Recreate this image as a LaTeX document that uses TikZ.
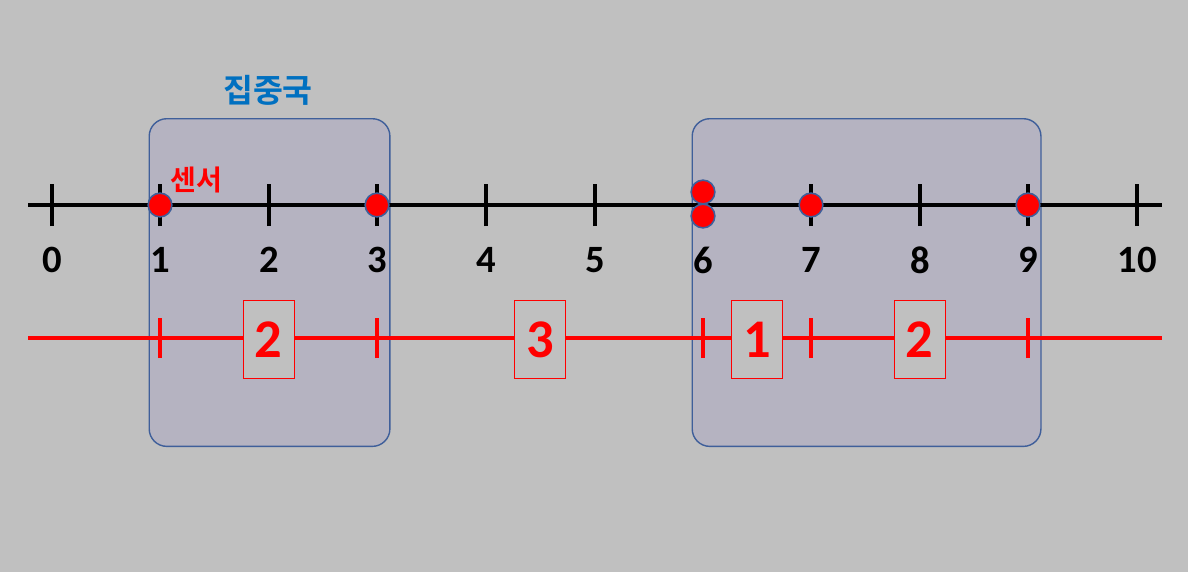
\documentclass[tikz,border=0pt]{standalone}
\usepackage{fontspec}
\setmainfont{Carlito}
\newfontfamily\kor{Noto Sans CJK KR}[BoldFont={* Bold}]
\definecolor{bg}{HTML}{C0C0C0}
\definecolor{grpfill}{HTML}{B5B3C1}
\definecolor{grpline}{HTML}{3F5F9A}
\definecolor{kblue}{HTML}{0070C0}
\definecolor{kred}{HTML}{FF0000}
\tikzset{
  grp/.style={draw=grpline, line width=0.8pt, fill=grpfill, rounded corners=10pt},
  blackaxis/.style={draw=black, line width=1.9pt},
  redaxis/.style={draw=kred, line width=1.8pt},
  sensor/.style={circle, fill=kred, draw=grpline, line width=0.9pt, minimum size=13.5pt, inner sep=0pt},
  numlbl/.style={font=\bfseries\fontsize{22}{24}\selectfont, text=black},
  seg/.style={draw=kred, line width=0.5pt, fill=bg, minimum width=29pt, minimum height=44pt, inner sep=0pt, font=\bfseries\fontsize{31}{33}\selectfont, text=kred}
}
\begin{document}
\begin{tikzpicture}[x=0.02cm,y=-0.02cm]
\fill[bg] (0,0) rectangle (1188,572);
\useasboundingbox (0,0) rectangle (1188,572);
% groups
\node[grp, minimum width=137pt, minimum height=186.5pt, anchor=north west] (g1) at (148.5,118) {};
\node[grp, minimum width=198.5pt, minimum height=186.5pt, anchor=north west] (g2) at (691.5,118) {};
\node[font=\kor\bfseries\fontsize{18.5}{20}\selectfont, text=kblue] (gl) at (268,90) {집중국};
% black axis
\coordinate (aL) at (28,205);
\coordinate (aR) at (1162,205);
\draw[blackaxis] (aL) -- (aR);
\foreach \i/\x in {0/52,1/160,2/269,3/377,4/486,5/595,6/703,7/811,8/920,9/1028,10/1137}{
  \coordinate (t\i) at (\x,205);
  \draw[blackaxis] ([yshift=-0.42cm]t\i) -- ([yshift=0.42cm]t\i);
  \node[numlbl] (n\i) at (\x,260) {\i};
}
% red axis
\coordinate (rL) at (28,338);
\coordinate (rR) at (1162,338);
\draw[redaxis] (rL) -- (rR);
\foreach \i/\x in {1/160,3/377,6/703,7/811,9/1028}{
  \coordinate (r\i) at (\x,338);
  \draw[redaxis] ([yshift=-0.4cm]r\i) -- ([yshift=0.4cm]r\i);
}
\node[seg] (s1) at (268.5,339.5) {2};
\node[seg] (s2) at (540,339.5) {3};
\node[seg] (s3) at (757,339.5) {1};
\node[seg] (s4) at (919.5,339.5) {2};
% sensors
\node[sensor] (p1) at (160,205) {};
\node[sensor] (p3) at (377,205) {};
\node[sensor] (p6a) at (703,192) {};
\node[sensor] (p6b) at (703,216) {};
\node[sensor] (p7) at (811,205) {};
\node[sensor] (p9) at (1028,205) {};
\node[font=\kor\bfseries\fontsize{16}{18}\selectfont, text=kred] (sl) at (196,180) {센서};
\end{tikzpicture}
\end{document}
